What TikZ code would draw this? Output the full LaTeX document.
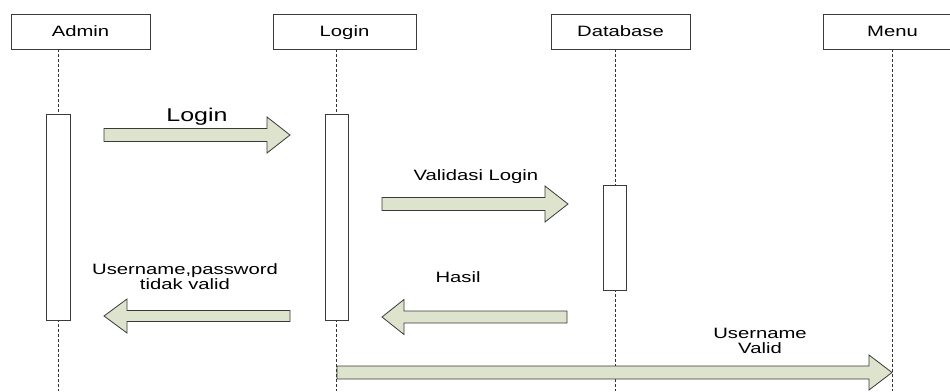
\documentclass[tikz,border=0pt]{standalone}
\usepackage{fontspec}
\setmainfont{Liberation Sans}
\newfontfamily\labfont[FakeStretch=1.35]{Liberation Sans}
\definecolor{arrowfill}{HTML}{DDE3CC}
\definecolor{edge}{HTML}{3A3A3A}
\tikzset{
  objbox/.style={draw=edge, line width=0.9pt, fill=white, minimum width=139pt, minimum height=35pt, inner sep=0pt, text height=10.7pt, text depth=0pt, font=\labfont\fontsize{15}{17}\selectfont},
  actbar/.style={draw=edge, line width=0.9pt, fill=white},
  lifeline/.style={draw=black!80, dashed, dash pattern=on 3pt off 2pt, line width=0.7pt},
  blockarrow/.style={draw=edge, line width=0.8pt, fill=arrowfill},
  lbl/.style={font=\labfont\fontsize{15}{15}\selectfont, align=center, inner sep=0pt},
  biglbl/.style={font=\labfont\fontsize{18.5}{20}\selectfont, inner sep=0pt}
}
\begin{document}
\begin{tikzpicture}[x=1pt,y=-1pt]
\useasboundingbox (0,0) rectangle (950,391);
% lifelines
\coordinate (la) at (58,49);  \coordinate (lae) at (58,391);
\coordinate (ll) at (336,49); \coordinate (lle) at (336,391);
\coordinate (ld) at (615,49); \coordinate (lde) at (615,391);
\coordinate (lm) at (892,49); \coordinate (lme) at (892,391);
\draw[lifeline] (la) -- (lae);
\draw[lifeline] (ll) -- (lle);
\draw[lifeline] (ld) -- (lde);
\draw[lifeline] (lm) -- (lme);
% object boxes
\node[objbox] (admin) at (80.5,31.5) {Admin};
\node[objbox, minimum width=143pt] (login) at (344.5,31.5) {Login};
\node[objbox] (db) at (620.5,31.5) {Database};
\node[objbox] (menu) at (892.5,31.5) {Menu};
% activation bars
\filldraw[actbar] (46,114) rectangle (70,320);
\filldraw[actbar] (325,114) rectangle (348,320);
\filldraw[actbar] (603,185) rectangle (626,290);
% arrows
\draw[blockarrow] (104,128.5) -- (267,128.5) -- (267,117) -- (290,135) -- (267,153) -- (267,141.5) -- (104,141.5) -- cycle;
\draw[blockarrow] (382,197.5) -- (545,197.5) -- (545,186) -- (568,204) -- (545,222) -- (545,210.5) -- (382,210.5) -- cycle;
\draw[blockarrow] (567,311) -- (404,311) -- (404,299.5) -- (382,317) -- (404,334.5) -- (404,323) -- (567,323) -- cycle;
\draw[blockarrow] (290,310.5) -- (127,310.5) -- (127,299) -- (104,316) -- (127,333) -- (127,321.5) -- (290,321.5) -- cycle;
\draw[blockarrow] (337,366) -- (869,366) -- (869,355) -- (892,372.5) -- (869,390) -- (869,379) -- (337,379) -- cycle;
% labels
\node[biglbl] (tlogin) at (197,117) {Login};
\node[lbl] (tval) at (476,177) {Validasi Login};
\node[lbl] (thasil) at (458,277) {Hasil};
\node[lbl] (tinv) at (185,277) {Username,password\\tidak valid};
\node[lbl] (tok) at (760,341) {Username\\Valid};
\end{tikzpicture}
\end{document}
